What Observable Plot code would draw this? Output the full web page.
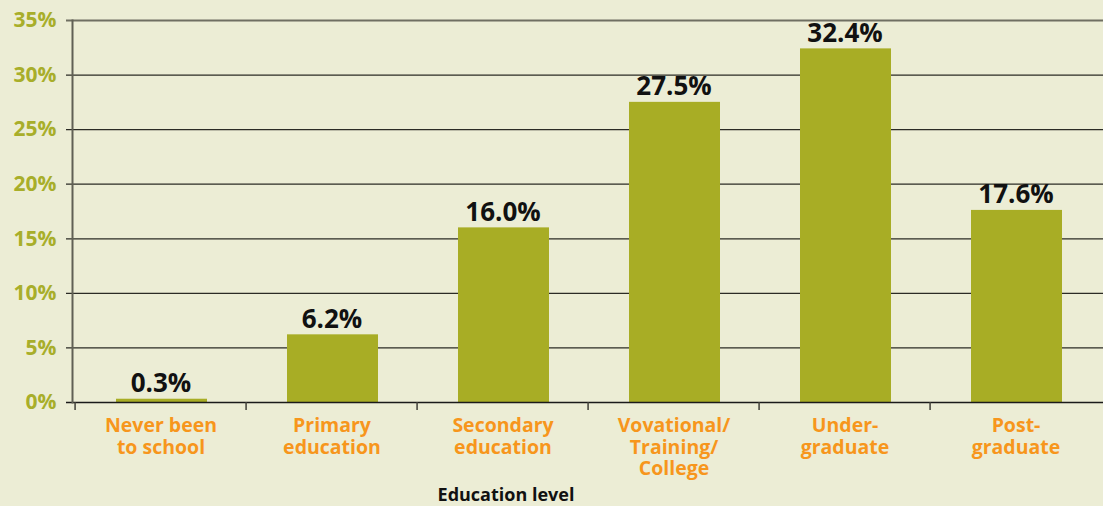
<!DOCTYPE html>
<html>
<head>
<meta charset="utf-8">
<script src="https://cdn.jsdelivr.net/npm/d3@7"></script>
<script src="https://cdn.jsdelivr.net/npm/@observablehq/plot@0.6"></script>
<style>
  html, body { margin: 0; padding: 0; background: #ecedd5; overflow: hidden; }
</style>
</head>
<body>
<div id="chart"></div>
<script>
const categories = ["Never been to school", "Primary education", "Secondary education", "Vovational/ Training/ College", "Under-graduate", "Post-graduate"];
const categoryLabels = ["Never been\nto school", "Primary\neducation", "Secondary\neducation", "Vovational/\nTraining/\nCollege", "Under-\ngraduate", "Post-\ngraduate"];
const values = [0.3, 6.2, 16.0, 27.5, 32.4, 17.6];
const yTicks = [0, 5, 10, 15, 20, 25, 30, 35];
const axisTitle = "Education level";

const W = 1103, H = 506, ML = 72, MR = 0, MT = 20, MB = 104;
const halfBand = (W - ML - MR) / categories.length / 2;
const idx = d3.range(categories.length);
const font = "'Open Sans', 'Noto Sans', sans-serif";

const chart = Plot.plot({
  width: W, height: H,
  marginLeft: ML, marginRight: MR, marginTop: MT, marginBottom: MB,
  style: { background: "#ecedd5", fontFamily: font, overflow: "visible" },
  x: { domain: categories, padding: 0, axis: null },
  y: { domain: [0, 35], axis: null },
  marks: [
    Plot.ruleY(yTicks.filter(d => d > 0 && d < 35), { y: d => d, stroke: "#2b2b25", strokeWidth: 1.2, insetLeft: -6 }),
    Plot.ruleY([35], { y: d => d, stroke: "#6f6f62", strokeWidth: 2.2, insetLeft: -6 }),
    Plot.barY(idx, { x: i => categories[i], y: i => values[i], fill: "#a8ad25", insetLeft: 41, insetRight: 39 }),
    Plot.ruleY([0], { y: d => d, stroke: "#1a1a1a", strokeWidth: 1.5, insetLeft: -6 }),
    Plot.frame({ anchor: "left", stroke: "#606055", strokeWidth: 2 }),
    Plot.ruleX(categories, { x: d => d, dx: -halfBand, y1: 0, y2: 0, insetBottom: -8, stroke: "#404038", strokeWidth: 1.5 }),
    Plot.text(idx, { x: i => categories[i], y: i => values[i], text: i => values[i].toFixed(1) + "%", dy: -7, lineAnchor: "bottom", fontSize: 26, fontWeight: "bold", fill: "#111" }),
    Plot.text(yTicks, { y: d => d, text: d => d + "%", frameAnchor: "left", textAnchor: "end", dx: -16, fontSize: 21, fontWeight: "bold", fill: "#a8ae2a" }),
    Plot.text(idx, { x: i => categories[i], y: 0, text: i => categoryLabels[i], lineAnchor: "top", dy: 15, fontSize: 19.5, lineHeight: 1.08, fontWeight: "bold", fill: "#f7961c" }),
    Plot.text([axisTitle], { text: d => d, frameAnchor: "bottom", lineAnchor: "middle", dx: -82, dy: 93, fontSize: 18, fontWeight: "bold", fill: "#111" })
  ]
});
document.getElementById("chart").appendChild(chart);
</script>
</body>
</html>
